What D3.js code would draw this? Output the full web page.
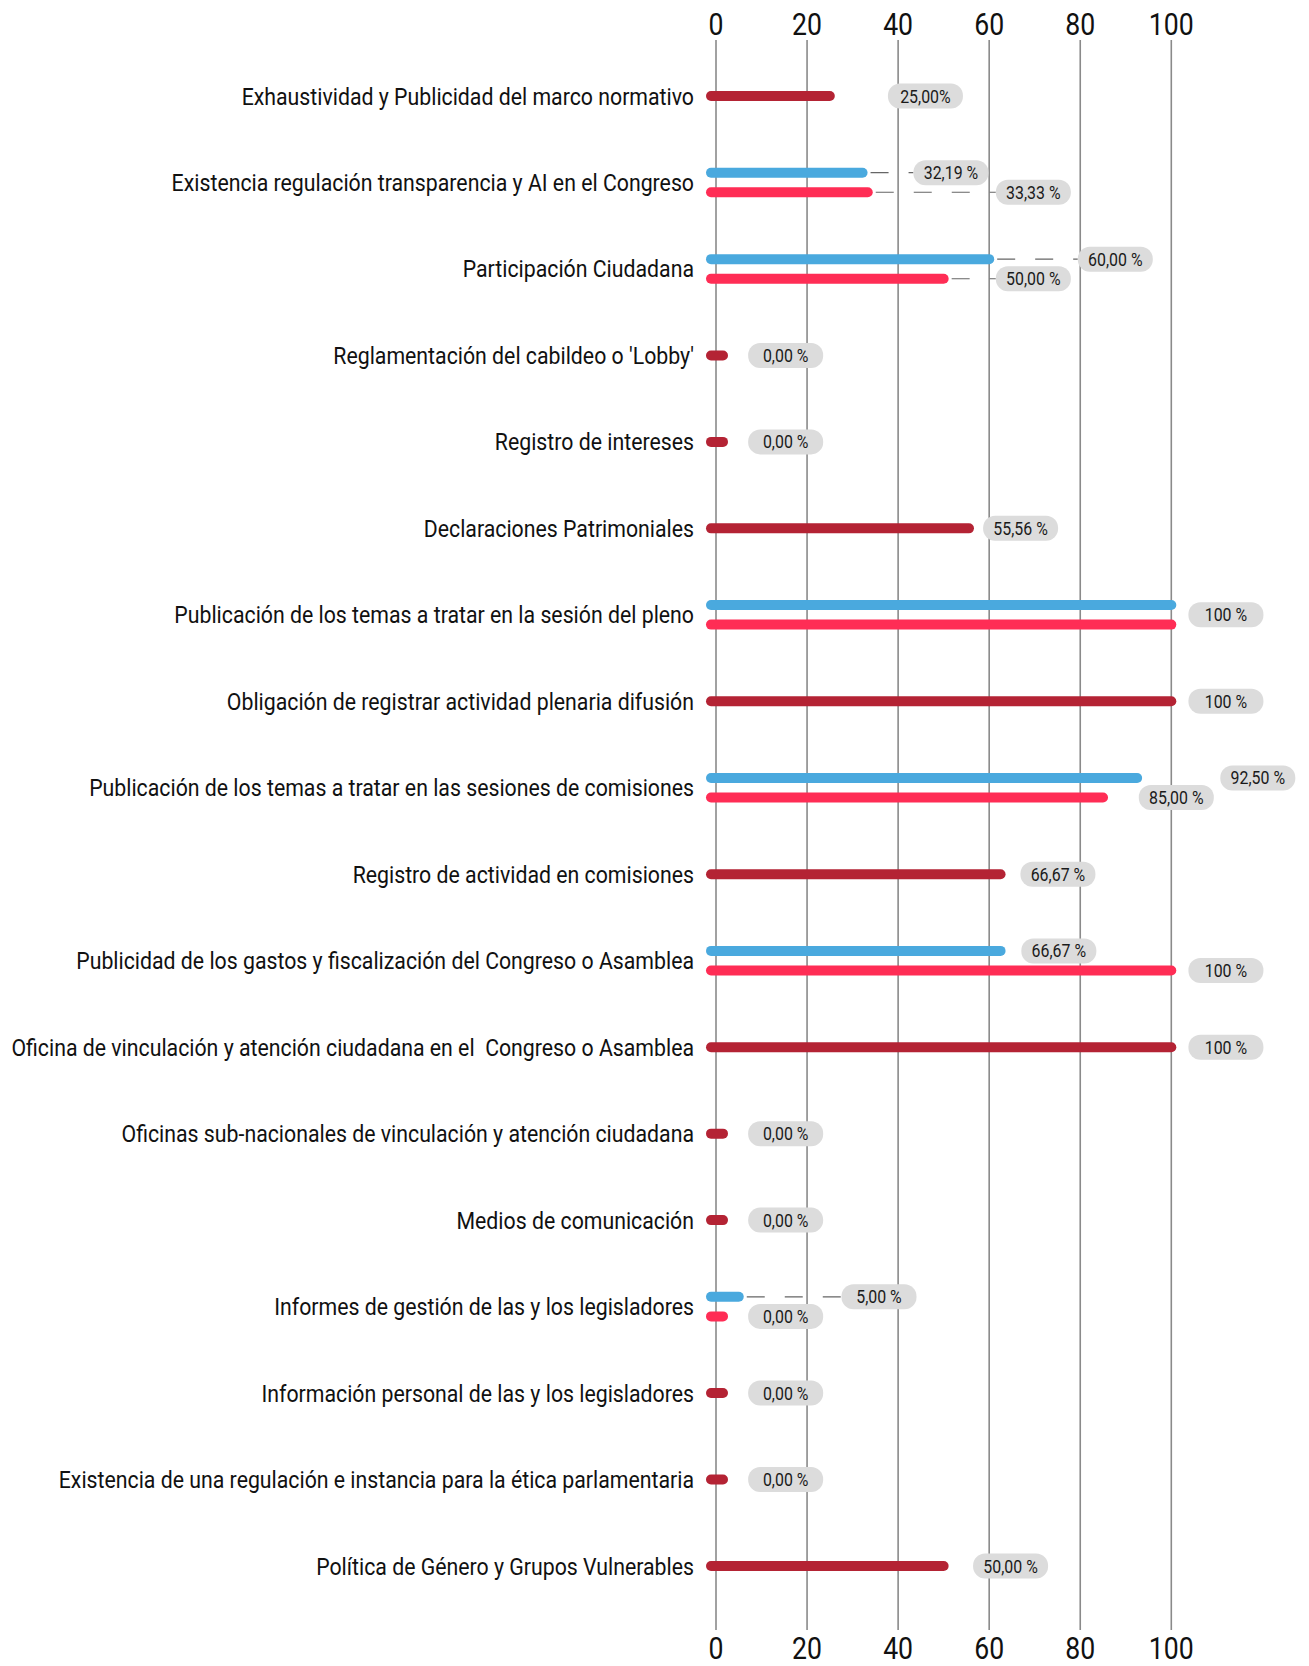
<!DOCTYPE html>
<html><head><meta charset="utf-8">
<script src="https://cdn.jsdelivr.net/npm/d3@7"></script>
<style>
html,body{margin:0;padding:0;background:#fff;}
svg text{font-family:Roboto,"Noto Sans",sans-serif;white-space:pre;}
</style></head>
<body><svg id="c" width="1309" height="1666"></svg>
<script>
const categories = [
"Exhaustividad y Publicidad del marco normativo",
"Existencia regulación transparencia y AI en el Congreso",
"Participación Ciudadana",
"Reglamentación del cabildeo o 'Lobby'",
"Registro de intereses",
"Declaraciones Patrimoniales",
"Publicación de los temas a tratar en la sesión del pleno",
"Obligación de registrar actividad plenaria difusión",
"Publicación de los temas a tratar en las sesiones de comisiones",
"Registro de actividad en comisiones",
"Publicidad de los gastos y fiscalización del Congreso o Asamblea",
"Oficina de vinculación y atención ciudadana en el  Congreso o Asamblea",
"Oficinas sub-nacionales de vinculación y atención ciudadana",
"Medios de comunicación",
"Informes de gestión de las y los legisladores",
"Información personal de las y los legisladores",
"Existencia de una regulación e instancia para la ética parlamentaria",
"Política de Género y Grupos Vulnerables"
];
// single-series rows (dark red)
const singleValues = [25,null,null,0,0,55.56,null,100,null,62.5,null,100,0,0,null,0,0,50];
const singleLabels = ["25,00%",null,null,"0,00 %","0,00 %","55,56 %",null,"100 %",null,"66,67 %",null,"100 %","0,00 %","0,00 %",null,"0,00 %","0,00 %","50,00 %"];
// paired rows: blue (top) and pink (bottom)
const blueValues = [null,32.19,60,null,null,null,100,null,92.5,null,62.5,null,null,null,5,null,null,null];
const blueLabels = [null,"32,19 %","60,00 %",null,null,null,null,null,"92,50 %",null,"66,67 %",null,null,null,"5,00 %",null,null,null];
const pinkValues = [null,33.33,50,null,null,null,100,null,85,null,100,null,null,null,0,null,null,null];
const pinkLabels = [null,"33,33 %","50,00 %",null,null,null,"100 %",null,"85,00 %",null,"100 %",null,null,null,"0,00 %",null,null,null];
const tickValues = [0,20,40,60,80,100];

// layout: where each value bubble sits, in axis units
const singleLabelAt = [46,null,null,15.3,15.3,66.9,null,112,null,75.1,null,112,15.3,15.3,null,15.3,15.3,64.7];
const blueLabelAt = [null,51.6,87.7,null,null,null,null,null,119,null,75.3,null,null,null,35.8,null,null,null];
const pinkLabelAt = [null,69.7,69.7,null,null,null,112,null,101.1,null,112,null,null,null,15.3,null,null,null];
const blueLeader = [1,2,14];
const pinkLeader = [1,2];

const C_SINGLE = "#b42334", C_BLUE = "#4aa9de", C_PINK = "#ff2d55";
const COND = 0.86;

const svg = d3.select("#c");
const x = d3.scaleLinear().domain([0,100]).range([716,1171.3]);
const y = d3.scalePoint().domain(categories).range([96,1566]);
const OFF = 9.8;

// gridlines
svg.append("g").selectAll("line").data(tickValues).join("line")
  .attr("x1",d=>x(d)).attr("x2",d=>x(d)).attr("y1",40).attr("y2",1630)
  .attr("stroke","#8a8a8a").attr("stroke-width",1.6);

function ctext(parent, tx, ty, str, size, anchor, fill, factor){
  const g = parent.append("g").attr("transform",`translate(${tx},${ty}) scale(${factor},1)`);
  return g.append("text").attr("text-anchor",anchor).attr("font-size",size).attr("fill",fill).text(str);
}
// tick labels top & bottom
const tg = svg.append("g");
tickValues.forEach(t=>{
  ctext(tg, x(t), 35, String(t), 31, "middle", "#111", COND);
  ctext(tg, x(t), 1659, String(t), 31, "middle", "#111", COND);
});

// category labels, fitted to width
const lg = svg.append("g");
const probe = svg.append("text").attr("font-size",24.5).style("font-family","Roboto").text(categories[11]);
const nat = probe.node().getComputedTextLength();
probe.remove();
const catF = 683/nat;
categories.forEach(c=>{
  ctext(lg, 694, y(c)+8.5, c, 24.5, "end", "#111", catF);
});

// bars
const bars = svg.append("g");
function bar(v, yy, col){
  const x2 = Math.max(x(v), x(0)+7);
  bars.append("line").attr("x1",x(0)-5).attr("x2",x2).attr("y1",yy).attr("y2",yy)
    .attr("stroke",col).attr("stroke-width",10).attr("stroke-linecap","round");
}
const BW = 75, BH = 25;
const bub = svg.append("g");
function bubble(at, yy, str){
  const cx = x(at);
  bub.append("rect").attr("x",cx-BW/2).attr("y",yy-BH/2).attr("width",BW).attr("height",BH)
    .attr("rx",12).attr("fill","#dcdcdc");
  ctext(bub, cx, yy+6.5, str, 18.5, "middle", "#1a1a1a", COND);
}
function leader(v, at, yy){
  const xa = x(v)+8, xb = x(at)-BW/2;
  if (xb > xa) bars.append("line").attr("x1",xa).attr("x2",xb).attr("y1",yy).attr("y2",yy)
    .attr("stroke","#666").attr("stroke-width",1.2).attr("stroke-dasharray","18,20");
}

categories.forEach((c,i)=>{
  const yc = y(c);
  if (singleValues[i]!=null){
    bar(singleValues[i], yc, C_SINGLE);
    bubble(singleLabelAt[i], yc, singleLabels[i]);
  } else {
    const yb = yc-OFF, yp = yc+OFF;
    if (blueLeader.includes(i)) leader(blueValues[i], blueLabelAt[i], yb);
    if (pinkLeader.includes(i)) leader(pinkValues[i], pinkLabelAt[i], yp);
    bar(blueValues[i], yb, C_BLUE);
    bar(pinkValues[i], yp, C_PINK);
    if (blueLabels[i]) bubble(blueLabelAt[i], yb, blueLabels[i]);
    if (pinkLabels[i]) bubble(pinkLabelAt[i], blueLabels[i] ? yp : yc, pinkLabels[i]);
  }
});
</script></body></html>
